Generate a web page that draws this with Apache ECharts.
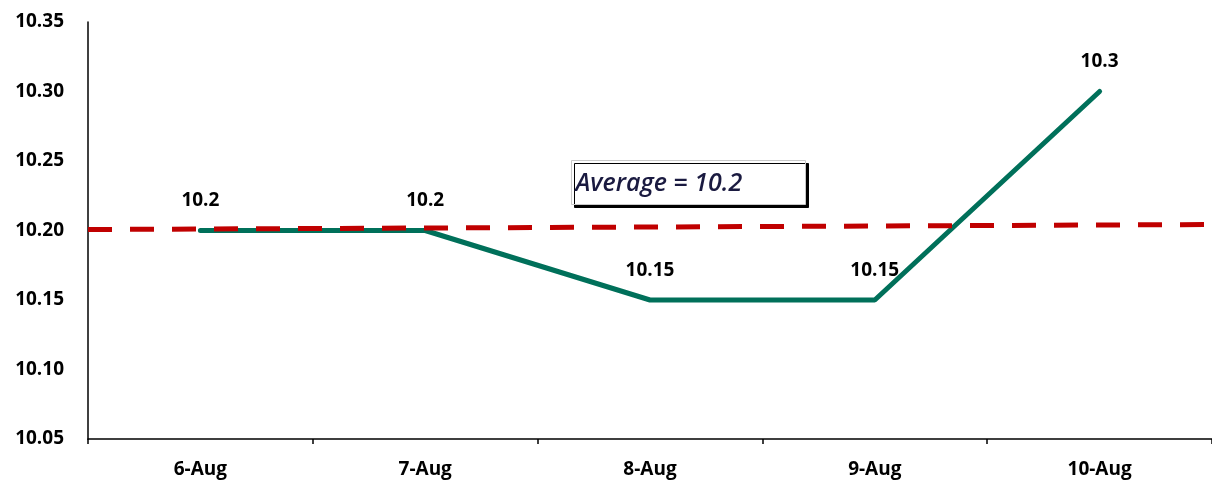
<!DOCTYPE html>
<html>
<head>
<meta charset="utf-8">
<script src="https://cdn.jsdelivr.net/npm/echarts@6/dist/echarts.min.js"></script>
<style>
    html, body { margin: 0; padding: 0; background: #fff; }
    #rateChart { width: 1212px; height: 484px; }
</style>
</head>
<body>
<div id="rateChart"></div>
<script>
    // values
    const days = ['6-Aug', '7-Aug', '8-Aug', '9-Aug', '10-Aug']
    const rates = [10.2, 10.2, 10.15, 10.15, 10.3]
    // average line as drawn (left end, right end) - it leans a little
    const avgLine = [10.2007, 10.2043]
    const avgText = 'Average = 10.2'

    const font = 'Open Sans'
    const myChart = echarts.init(document.getElementById('rateChart'))
    let option = {
        animation: false,
        grid: {
            left: 88,
            right: 0,
            top: 22,
            bottom: 45
        },
        xAxis: [
            {
                type: 'category',
                data: days,
                boundaryGap: true,
                axisLine: { lineStyle: { color: '#000', width: 1.5 } },
                axisTick: { show: true, length: 5, interval: 0, lineStyle: { color: '#000', width: 1.5 } },
                axisLabel: {
                    margin: 21,
                    color: '#000',
                    fontFamily: font,
                    fontWeight: 'bold',
                    fontSize: 19
                }
            },
            {
                // hidden helper axis for the average line
                type: 'value',
                min: 0,
                max: 1,
                show: false
            }
        ],
        yAxis: {
            type: 'value',
            min: 10.05,
            max: 10.35,
            interval: 0.05,
            splitLine: { show: false },
            axisLine: { show: true, lineStyle: { color: '#000', width: 1.5 } },
            axisTick: { show: false },
            axisLabel: {
                margin: 24,
                color: '#000',
                fontFamily: font,
                fontWeight: 'bold',
                fontSize: 19,
                formatter: v => v.toFixed(2)
            }
        },
        series: [
            {
                name: 'Average',
                type: 'line',
                xAxisIndex: 1,
                data: [[0, avgLine[0]], [1, avgLine[1]]],
                showSymbol: false,
                silent: true,
                z: 3,
                lineStyle: {
                    color: '#C00000',
                    width: 5,
                    type: [24, 18]
                }
            },
            {
                name: 'Rate',
                type: 'line',
                data: rates,
                symbol: 'circle',
                symbolSize: 2,
                showSymbol: true,
                itemStyle: { color: 'rgba(0,0,0,0)', borderWidth: 0 },
                z: 2,
                lineStyle: {
                    color: '#00705A',
                    width: 5,
                    cap: 'round'
                },
                label: {
                    show: true,
                    position: 'top',
                    distance: 19,
                    color: '#000',
                    fontFamily: font,
                    fontWeight: 'bold',
                    fontSize: 19
                }
            }
        ],
        graphic: [
            {
                type: 'group',
                left: 571,
                top: 160,
                children: [
                    {
                        type: 'rect',
                        shape: { x: 0, y: 0, width: 234, height: 44 },
                        style: {
                            fill: '#fff',
                            stroke: '#c8c8c8',
                            lineWidth: 1,
                            shadowColor: '#000',
                            shadowOffsetX: 3,
                            shadowOffsetY: 3,
                            shadowBlur: 0
                        }
                    },
                    {
                        type: 'text',
                        x: 4,
                        y: 23,
                        style: {
                            text: avgText,
                            fill: '#1a1a40',
                            font: 'italic 600 25px "Open Sans"',
                            verticalAlign: 'middle'
                        }
                    }
                ]
            }
        ]
    }
    myChart.setOption(option)
</script>
</body>
</html>
